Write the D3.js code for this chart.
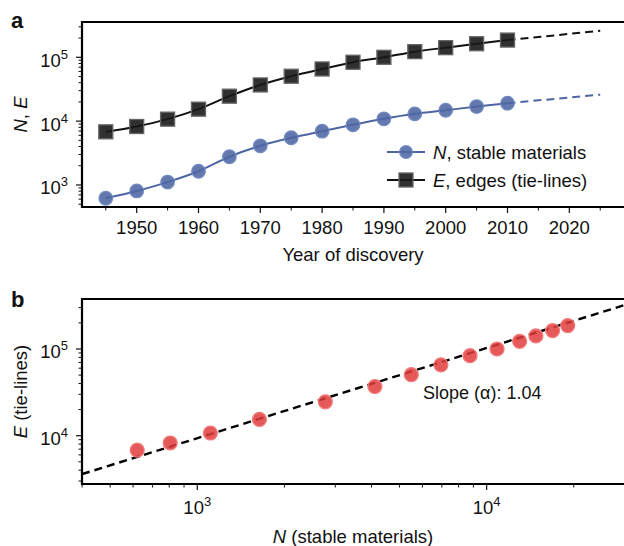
<!DOCTYPE html>
<html>
<head>
<meta charset="utf-8">
<script src="https://cdn.jsdelivr.net/npm/d3@7"></script>
<style>
  body { margin: 0; background: #fff; }
  svg text { font-family: "Liberation Sans", Arial, sans-serif; fill: #111; }
</style>
</head>
<body>
<svg id="fig" width="624" height="546"></svg>
<script>
// data
const years = [1945, 1950, 1955, 1960, 1965, 1970, 1975, 1980, 1985, 1990, 1995, 2000, 2005, 2010];
const nStable = [620, 806, 1110, 1640, 2770, 4110, 5490, 6950, 8760, 10860, 13000, 14800, 16900, 19060];
const eEdges = [6800, 8240, 10740, 15400, 24600, 36900, 50500, 65600, 83600, 100000, 122600, 141500, 163000, 186000];
const projYears = [2010, 2025];
const nProj = [19060, 26000];
const eProj = [186000, 260000];
const yearTicks = [1950, 1960, 1970, 1980, 1990, 2000, 2010, 2020];
const fitSlope = 1.04;
const fitCoef = 7.1;

const svg = d3.select("#fig");
const font = 18.5;

// log axis ticks: decades labelled as 10^k, 2..9 as minor
function logTicks(domain) {
    let major = [], minor = [];
    let lo = Math.floor(Math.log10(domain[0])), hi = Math.ceil(Math.log10(domain[1]));
    for (let k = lo; k <= hi; k++) {
        for (let m = 1; m < 10; m++) {
            let v = m * Math.pow(10, k);
            if (v < domain[0] || v > domain[1]) continue;
            if (m == 1) major.push(k); else minor.push(v);
        }
    }
    return {major, minor};
}

function yLogAxis(g, y, x0) {
    let t = logTicks(y.domain());
    t.minor.forEach(v => {
        g.append("line").attr("x1", x0).attr("x2", x0 - 3.5)
            .attr("y1", y(v)).attr("y2", y(v)).attr("stroke", "#111").attr("stroke-width", 1);
    });
    t.major.forEach(k => {
        let yy = y(Math.pow(10, k));
        g.append("line").attr("x1", x0).attr("x2", x0 - 6)
            .attr("y1", yy).attr("y2", yy).attr("stroke", "#111").attr("stroke-width", 1.2);
        let tx = g.append("text").attr("x", x0 - 14).attr("y", yy + 9.5)
            .attr("text-anchor", "end").style("font-size", font + "px");
        tx.append("tspan").text("10");
        tx.append("tspan").attr("dy", -8).style("font-size", "13px").text(k);
    });
}

function xLogAxis(g, x, y0) {
    let t = logTicks(x.domain());
    t.minor.forEach(v => {
        g.append("line").attr("x1", x(v)).attr("x2", x(v))
            .attr("y1", y0).attr("y2", y0 + 3.5).attr("stroke", "#111").attr("stroke-width", 1);
    });
    t.major.forEach(k => {
        let xx = x(Math.pow(10, k));
        g.append("line").attr("x1", xx).attr("x2", xx)
            .attr("y1", y0).attr("y2", y0 + 6).attr("stroke", "#111").attr("stroke-width", 1.2);
        let tx = g.append("text").attr("x", xx).attr("y", y0 + 30)
            .attr("text-anchor", "middle").style("font-size", font + "px");
        tx.append("tspan").text("10");
        tx.append("tspan").attr("dy", -8).style("font-size", "13px").text(k);
    });
}

function frame(g, l, t, r, b) {
    g.append("path")
        .attr("d", `M${r},${t}H${l}V${b}H${r}`)
        .attr("fill", "none").attr("stroke", "#000").attr("stroke-width", 2.2);
}

// ---------- panel a ----------
const a = {l: 82, t: 22, r: 624, b: 207};
const xa = d3.scaleLinear().domain([1941.15, 2028.85]).range([a.l, a.r]);
const ya = d3.scaleLog().domain([452, 357000]).range([a.b, a.t]);
const ga = svg.append("g");

// year ticks
d3.range(1945, 2030, 5).forEach(yr => {
    let major = yearTicks.includes(yr);
    ga.append("line").attr("x1", xa(yr)).attr("x2", xa(yr))
        .attr("y1", a.b).attr("y2", a.b + (major ? 6 : 3.5))
        .attr("stroke", "#111").attr("stroke-width", major ? 1.2 : 1);
});
yearTicks.forEach(yr => {
    ga.append("text").attr("x", xa(yr)).attr("y", a.b + 27)
        .attr("text-anchor", "middle").style("font-size", font + "px").text(yr);
});
yLogAxis(ga, ya, a.l);

const blue = "#4d66a3";
const smooth = d3.line().curve(d3.curveMonotoneX);

const ptsE = years.map((yr, i) => [xa(yr), ya(eEdges[i])]);
const ptsN = years.map((yr, i) => [xa(yr), ya(nStable[i])]);

ga.append("path").attr("d", smooth(ptsE)).attr("fill", "none")
    .attr("stroke", "#111").attr("stroke-width", 2);
ga.append("path").attr("d", smooth(ptsN)).attr("fill", "none")
    .attr("stroke", blue).attr("stroke-width", 2);

ga.append("path").attr("d", d3.line()(projYears.map((yr, i) => [xa(yr), ya(eProj[i])])))
    .attr("fill", "none").attr("stroke", "#111").attr("stroke-width", 2).attr("stroke-dasharray", "8,5");
ga.append("path").attr("d", d3.line()(projYears.map((yr, i) => [xa(yr), ya(nProj[i])])))
    .attr("fill", "none").attr("stroke", blue).attr("stroke-width", 2).attr("stroke-dasharray", "8,5");

function square(g, x, y) {
    g.append("rect").attr("x", x - 7).attr("y", y - 7).attr("width", 14).attr("height", 14)
        .attr("fill", "#1a1a1a").attr("fill-opacity", 0.9)
        .attr("stroke", "#666").attr("stroke-width", 1.3);
}
function bluedot(g, x, y, r) {
    g.append("circle").attr("cx", x).attr("cy", y).attr("r", r)
        .attr("fill", blue).attr("fill-opacity", 0.88)
        .attr("stroke", "#7189c2").attr("stroke-width", 1.2);
}
ptsE.forEach(p => square(ga, p[0], p[1]));
ptsN.forEach(p => bluedot(ga, p[0], p[1], 6.8));

// legend
const leg = [{y: 152, c: blue, lab: "N", rest: ", stable materials"},
             {y: 180, c: "#111", lab: "E", rest: ", edges (tie-lines)"}];
leg.forEach((d, i) => {
    ga.append("line").attr("x1", 387).attr("x2", 425).attr("y1", d.y).attr("y2", d.y)
        .attr("stroke", d.c).attr("stroke-width", 2);
    if (i == 0) bluedot(ga, 406, d.y, 6.3); else square(ga, 406, d.y);
    let t = ga.append("text").attr("x", 433).attr("y", d.y + 6.5).style("font-size", font + "px");
    t.append("tspan").style("font-style", "italic").text(d.lab);
    t.append("tspan").text(d.rest);
});

frame(ga, a.l, a.t, a.r + 2, a.b);

ga.append("text").attr("x", (a.l + a.r) / 2).attr("y", 261)
    .attr("text-anchor", "middle").style("font-size", font + "px").text("Year of discovery");
let yla = ga.append("text").attr("transform", `translate(27,${(a.t + a.b) / 2}) rotate(-90)`)
    .attr("text-anchor", "middle").style("font-size", font + "px");
yla.append("tspan").style("font-style", "italic").text("N");
yla.append("tspan").text(", ");
yla.append("tspan").style("font-style", "italic").text("E");

svg.append("text").attr("x", 11).attr("y", 28).style("font-size", "22px")
    .style("font-weight", "bold").text("a");

// ---------- panel b ----------
const b = {l: 82, t: 299, r: 624, b: 484};
const xb = d3.scaleLog().domain([399.6, 29830]).range([b.l, b.r]);
const yb = d3.scaleLog().domain([2773, 377000]).range([b.b, b.t]);
const gb = svg.append("g");

svg.append("clipPath").attr("id", "clipb").append("rect")
    .attr("x", b.l).attr("y", b.t).attr("width", b.r - b.l).attr("height", b.b - b.t);

xLogAxis(gb, xb, b.b);
yLogAxis(gb, yb, b.l);

const fitN = xb.domain();
gb.append("path").attr("clip-path", "url(#clipb)")
    .attr("d", d3.line()(fitN.map(n => [xb(n), yb(fitCoef * Math.pow(n, fitSlope))])))
    .attr("fill", "none").attr("stroke", "#000").attr("stroke-width", 2.4)
    .attr("stroke-dasharray", "8,5");

nStable.forEach((n, i) => {
    gb.append("circle").attr("cx", xb(n)).attr("cy", yb(eEdges[i])).attr("r", 7)
        .attr("fill", "#e23c3c").attr("fill-opacity", 0.85)
        .attr("stroke", "#f07c7c").attr("stroke-width", 1.2);
});

gb.append("text").attr("x", 423).attr("y", 399).style("font-size", "18px")
    .text("Slope (\u03b1): " + fitSlope.toFixed(2));

frame(gb, b.l, b.t, b.r + 2, b.b);

let xlb = gb.append("text").attr("x", (b.l + b.r) / 2).attr("y", 543)
    .attr("text-anchor", "middle").style("font-size", font + "px");
xlb.append("tspan").style("font-style", "italic").text("N");
xlb.append("tspan").text(" (stable materials)");

let ylb = gb.append("text").attr("transform", `translate(27,${(b.t + b.b) / 2}) rotate(-90)`)
    .attr("text-anchor", "middle").style("font-size", font + "px");
ylb.append("tspan").style("font-style", "italic").text("E");
ylb.append("tspan").text(" (tie-lines)");

svg.append("text").attr("x", 11).attr("y", 307).style("font-size", "22px")
    .style("font-weight", "bold").text("b");
</script>
</body>
</html>
